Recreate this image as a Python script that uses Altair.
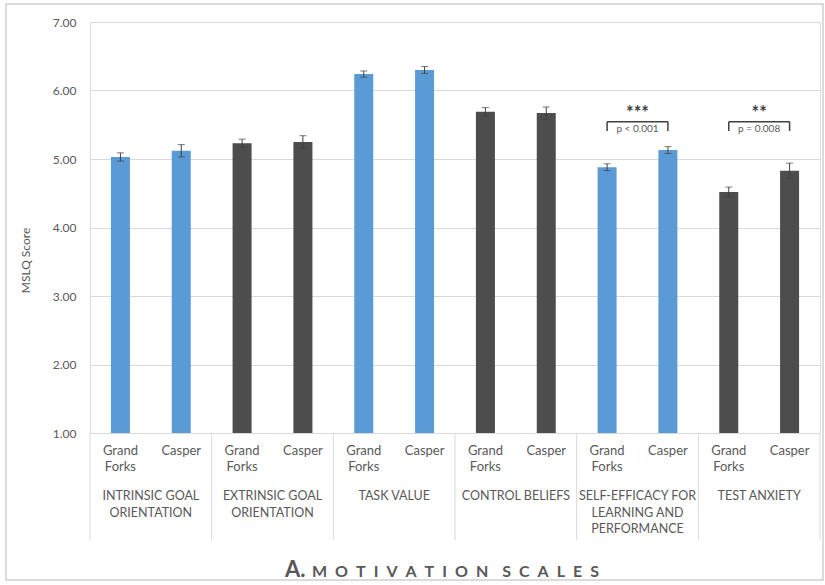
import altair as alt
import pandas as pd

# ---- data ----
categories = [
    "INTRINSIC GOAL ORIENTATION",
    "EXTRINSIC GOAL ORIENTATION",
    "TASK VALUE",
    "CONTROL BELIEFS",
    "SELF-EFFICACY FOR LEARNING AND PERFORMANCE",
    "TEST ANXIETY",
]
category_lines = [
    ["INTRINSIC GOAL", "ORIENTATION"],
    ["EXTRINSIC GOAL", "ORIENTATION"],
    ["TASK VALUE"],
    ["CONTROL BELIEFS"],
    ["SELF-EFFICACY FOR", "LEARNING AND", "PERFORMANCE"],
    ["TEST ANXIETY"],
]
sites = ["Grand Forks", "Casper"]
site_lines = [["Grand", "Forks"], ["Casper"]]
grand_forks = [5.03, 5.23, 6.24, 5.69, 4.88, 4.52]
grand_forks_err = [0.06, 0.06, 0.045, 0.06, 0.05, 0.07]
casper = [5.12, 5.25, 6.30, 5.67, 5.13, 4.83]
casper_err = [0.09, 0.09, 0.05, 0.09, 0.05, 0.11]
sig_categories = [categories[4], categories[5]]
sig_stars = ["***", "**"]
sig_p = ["p < 0.001", "p = 0.008"]
y_ticks = [1, 2, 3, 4, 5, 6, 7]

# ---- styles ----
BLUE = "#5B9BD5"
DARK = "#4D4D4D"
TEXT = "#595959"
GRID = "#D9D9D9"
ERR = "#404040"
FONT = "Lato"
bar_colors = [BLUE if i % 2 == 0 else DARK for i in range(len(categories))]
bracket_y = 5.545
bracket_tick_y = 5.41
star_y = 5.59
p_y = 5.44

# ---- tables ----
rows = []
for i, cat in enumerate(categories):
    for j, (vals, errs) in enumerate([(grand_forks, grand_forks_err), (casper, casper_err)]):
        rows.append({
            "category": cat,
            "site": sites[j],
            "site_label": "\n".join(site_lines[j]),
            "pos": i + 0.25 + 0.5 * j,
            "value": vals[i],
            "lo": vals[i] - errs[i],
            "hi": vals[i] + errs[i],
        })
df = pd.DataFrame(rows)

cat_df = pd.DataFrame({
    "category": categories,
    "label": ["\n".join(l) for l in category_lines],
    "center": [i + 0.5 for i in range(len(categories))],
})
sep_df = pd.DataFrame({"edge": list(range(len(categories) + 1))})

sig_rows = []
for c, s, p in zip(sig_categories, sig_stars, sig_p):
    i = categories.index(c)
    sig_rows.append({"x1": i + 0.25, "x2": i + 0.75, "xc": i + 0.5, "stars": s, "p": p})
sig_df = pd.DataFrame(sig_rows)
sig_ends = pd.DataFrame({"x": list(sig_df["x1"]) + list(sig_df["x2"])})

xs = alt.Scale(domain=[0, len(categories)], nice=False, zero=False, padding=0)
ys = alt.Scale(domain=[1, 7], nice=False, zero=False)

X = lambda f: alt.X(f, type="quantitative", scale=xs, axis=None)

bars = alt.Chart(df).mark_bar(size=19).encode(
    x=X("pos"),
    y=alt.Y(
        "value:Q", scale=ys,
        axis=alt.Axis(
            values=y_ticks, format=".2f", title="MSLQ Score", domain=False, ticks=False,
            labelPadding=14, labelFont=FONT, labelFontSize=12, labelColor=TEXT,
            grid=True, gridColor=GRID, gridWidth=1,
            titleFont=FONT, titleFontSize=12, titleFontWeight="normal", titleColor=TEXT,
            titleX=-65, titleY=238, titleAngle=-90, titleAlign="center", titleBaseline="middle",
        ),
    ),
    y2=alt.datum(1),
    color=alt.Color("category:N", scale=alt.Scale(domain=categories, range=bar_colors), legend=None),
)

err_rule = alt.Chart(df).mark_rule(color=ERR, strokeWidth=1).encode(
    x=X("pos"), y=alt.Y("lo:Q", scale=ys), y2="hi:Q"
)
err_lo = alt.Chart(df).mark_tick(orient="horizontal", size=7, thickness=1, color=ERR).encode(
    x=X("pos"), y=alt.Y("lo:Q", scale=ys)
)
err_hi = alt.Chart(df).mark_tick(orient="horizontal", size=7, thickness=1, color=ERR).encode(
    x=X("pos"), y=alt.Y("hi:Q", scale=ys)
)

seps = alt.Chart(sep_df).mark_rule(color=GRID, strokeWidth=1).encode(
    x=X("edge"), y=alt.value(411), y2=alt.value(518)
)

site_text = alt.Chart(df).mark_text(
    font=FONT, fontSize=13, color=TEXT, align="center", baseline="top", lineBreak="\n", lineHeight=15.5
).encode(x=X("pos"), y=alt.value(423), text="site_label:N")

cat_text = alt.Chart(cat_df).mark_text(
    font=FONT, fontSize=12.5, color=TEXT, align="center", baseline="top", lineBreak="\n", lineHeight=16.5
).encode(x=X("center"), y=alt.value(468), text="label:N")

br_h = alt.Chart(sig_df).mark_rule(color=ERR, strokeWidth=1.5).encode(
    x=X("x1"), x2="x2:Q", y=alt.Y(datum=bracket_y, scale=ys)
)
br_v = alt.Chart(sig_ends).mark_rule(color=ERR, strokeWidth=1.5).encode(
    x=X("x"), y=alt.Y(datum=bracket_y, scale=ys), y2=alt.datum(bracket_tick_y)
)
stars = alt.Chart(sig_df).mark_text(
    font=FONT, fontSize=18, fontWeight="bold", color=ERR, align="center", baseline="alphabetic"
).encode(x=X("xc"), y=alt.Y(datum=star_y, scale=ys), text="stars:N")
ptext = alt.Chart(sig_df).mark_text(
    font=FONT, fontSize=10, color=TEXT, align="center", baseline="middle"
).encode(x=X("xc"), y=alt.Y(datum=p_y, scale=ys), text="p:N")

one = pd.DataFrame({"k": [0]})
frame = alt.Chart(one).mark_rect(fillOpacity=0, stroke="#D0D0D0", strokeWidth=1.5).encode(
    x=alt.value(-84), x2=alt.value(733), y=alt.value(-18), y2=alt.value(558)
)
title_a = alt.Chart(one).mark_text(
    text="A.", font=FONT, fontSize=22, fontWeight="bold", color=TEXT, align="left", baseline="alphabetic"
).encode(x=alt.value(195), y=alt.value(555))
sp = "\u2002"
title_rest = alt.Chart(one).mark_text(
    text=sp.join("MOTIVATION") + "\u2003\u2009" + sp.join("SCALES"),
    font=FONT, fontSize=16, fontWeight="bold", color=TEXT, align="left", baseline="alphabetic"
).encode(x=alt.value(222), y=alt.value(555))

chart = alt.layer(
    frame, bars, err_rule, err_lo, err_hi, seps, site_text, cat_text,
    br_h, br_v, stars, ptext, title_a, title_rest
).properties(
    width=730, height=411,
    autosize=alt.AutoSizeParams(type="none"),
    padding={"left": 90, "top": 22, "right": 5, "bottom": 152},
).configure_view(stroke=None).configure(background="white")

chart.save("out.html", embed_options={"renderer": "svg", "actions": False})
